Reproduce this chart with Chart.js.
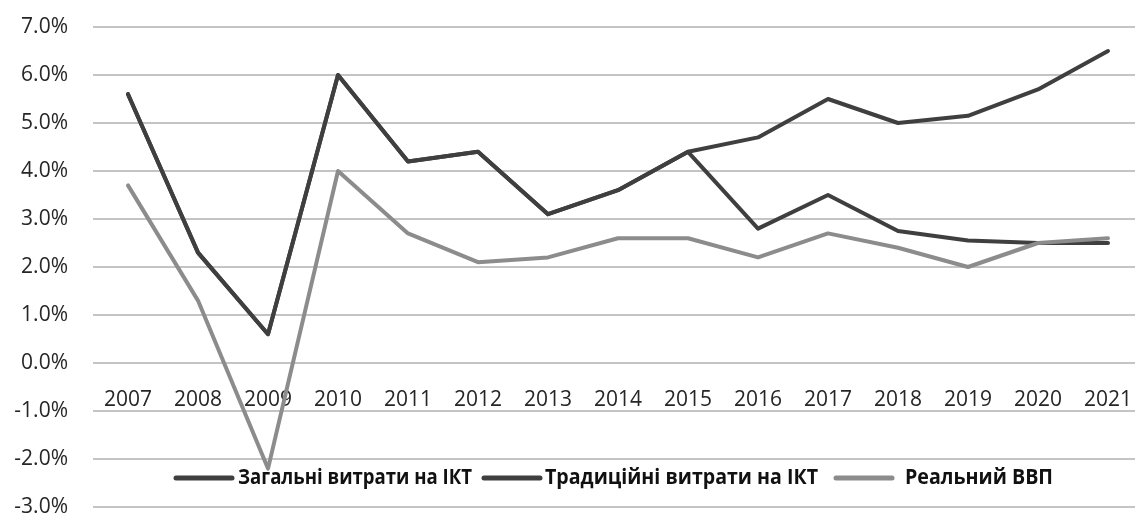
<!DOCTYPE html>
<html>
<head>
<meta charset="utf-8">
<script src="https://cdn.jsdelivr.net/npm/chart.js@4.4.0/dist/chart.umd.min.js"></script>
<style>
  html, body { margin: 0; padding: 0; background: #fff; overflow: hidden; }
  #chart { display: block; }
</style>
</head>
<body>
<canvas id="chart" width="1143" height="517"></canvas>
<script>
const years = ["2007", "2008", "2009", "2010", "2011", "2012", "2013", "2014",
  "2015", "2016", "2017", "2018", "2019", "2020", "2021"];
const totalIct = [5.6, 2.3, 0.6, 6.0, 4.2, 4.4, 3.1, 3.6, 4.4, 4.7, 5.5, 5.0, 5.15, 5.7, 6.5];
const traditionalIct = [5.6, 2.3, 0.6, 6.0, 4.2, 4.4, 3.1, 3.6, 4.4, 2.8, 3.5, 2.75, 2.55, 2.5, 2.5];
const realGdp = [3.7, 1.3, -2.2, 4.0, 2.7, 2.1, 2.2, 2.6, 2.6, 2.2, 2.7, 2.4, 2.0, 2.5, 2.6];
const yTicks = [-3, -2, -1, 0, 1, 2, 3, 4, 5, 6, 7];

const seriesNames = ["Загальні витрати на ІКТ", "Традиційні витрати на ІКТ", "Реальний ВВП"];
const darkLine = "#3f3f3f";
const greyLine = "#8c8c8c";

// legend sits inside the plot, between the -2% and -3% grid lines
const legendSlots = [
  { swatch: 176, text: 238, width: 234 },
  { swatch: 484, text: 545, width: 273 },
  { swatch: 836, text: 905, width: 148 },
];

const insideLegend = {
  id: "insideLegend",
  afterDraw(chart) {
    const ctx = chart.ctx;
    const y = 478;
    ctx.save();
    chart.data.datasets.forEach((ds, i) => {
      const slot = legendSlots[i];
      ctx.strokeStyle = ds.borderColor;
      ctx.lineWidth = 5;
      ctx.lineCap = "round";
      ctx.beginPath();
      ctx.moveTo(slot.swatch, y);
      ctx.lineTo(slot.swatch + 56, y);
      ctx.stroke();

      ctx.font = "bold 21px 'Open Sans'";
      ctx.fillStyle = "#111";
      ctx.textBaseline = "middle";
      const w = ctx.measureText(ds.label).width;
      ctx.save();
      ctx.translate(slot.text, y);
      ctx.scale(Math.min(1, slot.width / w), 1);
      ctx.fillText(ds.label, 0, 0);
      ctx.restore();
    });
    ctx.restore();
  },
};

new Chart(document.getElementById("chart"), {
  type: "line",
  data: {
    labels: years,
    datasets: [
      { label: seriesNames[0], data: totalIct, borderColor: darkLine, order: 2 },
      { label: seriesNames[1], data: traditionalIct, borderColor: darkLine, order: 1 },
      { label: seriesNames[2], data: realGdp, borderColor: greyLine, order: 0 },
    ],
  },
  options: {
    responsive: false,
    animation: false,
    layout: { padding: { top: 27, bottom: 10, left: 0, right: 0 } },
    elements: {
      line: { borderWidth: 4, tension: 0, borderJoinStyle: "round", borderCapStyle: "round", fill: false },
      point: { radius: 0, hoverRadius: 0 },
    },
    plugins: {
      legend: { display: false },
      tooltip: { enabled: false },
    },
    scales: {
      x: {
        type: "category",
        position: { y: 0 },
        offset: true,
        afterFit(scale) {
          scale.paddingLeft = 0;
          scale.paddingRight = 0;
        },
        grid: { display: false },
        border: { display: false },
        ticks: {
          color: "#262626",
          font: { family: "'Open Sans'", size: 21 },
          padding: 16,
          maxRotation: 0,
          autoSkip: false,
        },
      },
      y: {
        min: -3,
        max: 7,
        afterFit(scale) {
          scale.width = 93;
          scale.paddingTop = 0;
          scale.paddingBottom = 0;
        },
        afterBuildTicks(scale) { scale.ticks = yTicks.map((v) => ({ value: v })); },
        grid: { color: "#c4c4c4", lineWidth: 2, drawTicks: false },
        border: { display: false },
        ticks: {
          color: "#262626",
          font: { family: "'Open Sans'", size: 21 },
          padding: 25,
          callback: (v) => v.toFixed(1) + "%",
        },
      },
    },
  },
  plugins: [insideLegend],
});
</script>
</body>
</html>
